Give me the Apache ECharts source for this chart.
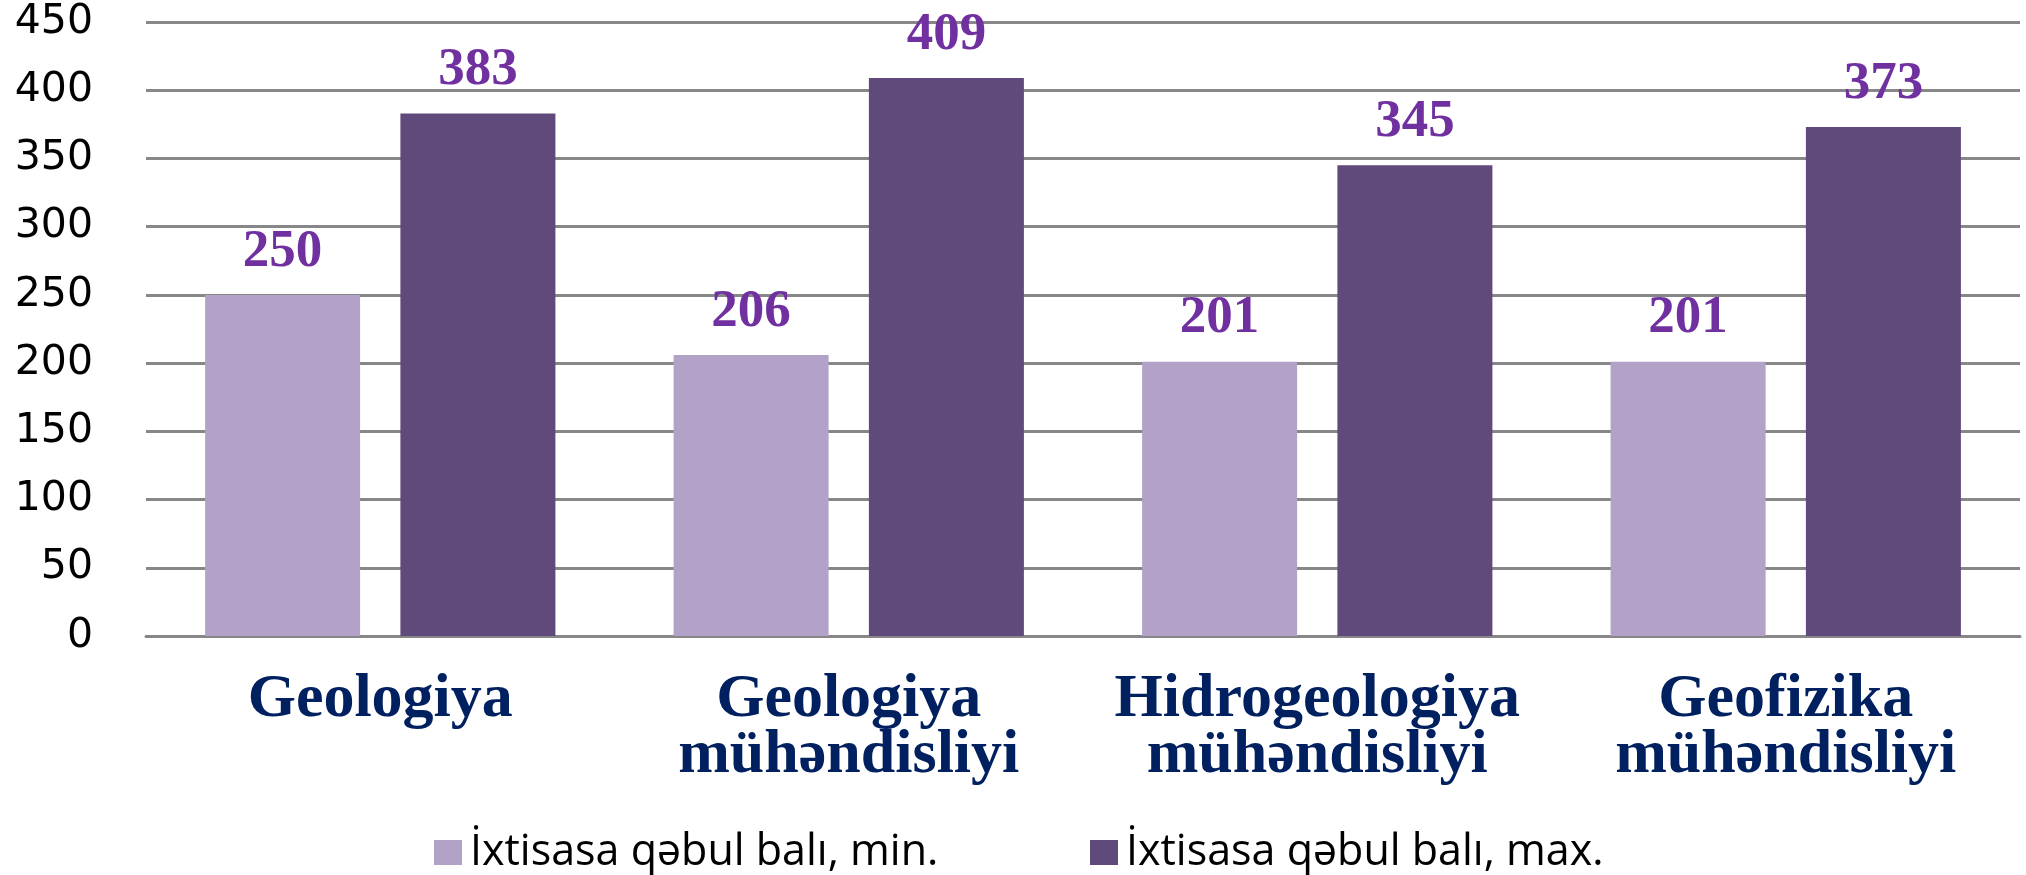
<!DOCTYPE html>
<html>
<head>
<meta charset="utf-8">
<title>İxtisasa qəbul balı</title>
<script src="https://cdn.jsdelivr.net/npm/echarts@6/dist/echarts.min.js"></script>
<style>
  html, body { margin: 0; padding: 0; background: #fff; }
  #chart { width: 2026px; height: 875px; }
</style>
</head>
<body>
<div id="chart"></div>
<script>
// ixtisaslar
var categories = ['Geologiya', 'Geologiya\nmühəndisliyi', 'Hidrogeologiya\nmühəndisliyi', 'Geofizika\nmühəndisliyi'];
// qəbul balları
var minScores = [250, 206, 201, 201];
var maxScores = [383, 409, 345, 373];
var seriesNames = ['İxtisasa qəbul balı, min.', 'İxtisasa qəbul balı, max.'];
var yTicks = [0, 50, 100, 150, 200, 250, 300, 350, 400, 450];

var chart = echarts.init(document.getElementById('chart'));

var valueLabel = {
    show: true,
    position: 'top',
    distance: 17,
    color: '#7030A0',
    fontFamily: '"Liberation Serif", "Times New Roman", serif',
    fontWeight: 'bold',
    fontSize: 53,
    lineHeight: 52
};

var legendText = {
    color: '#000',
    fontFamily: '"Open Sans", sans-serif',
    fontSize: 43,
    lineHeight: 40,
    padding: [0, 0, 0, 3]
};

var option = {
    backgroundColor: '#fff',
    animation: false,
    grid: { left: 146, right: 6, top: 22, bottom: 239 },
    legend: [
        { data: [seriesNames[0]], left: 429, top: 826, icon: 'rect', itemWidth: 28, itemHeight: 25, itemGap: 0, textStyle: legendText },
        { data: [seriesNames[1]], left: 1085, top: 826, icon: 'rect', itemWidth: 28, itemHeight: 25, itemGap: 0, textStyle: legendText }
    ],
    xAxis: {
        type: 'category',
        data: categories,
        axisTick: { show: false },
        axisLine: { lineStyle: { color: '#878787', width: 3 } },
        axisLabel: {
            interval: 0,
            margin: 36,
            color: '#002060',
            fontFamily: '"Liberation Serif", "Times New Roman", serif',
            fontWeight: 'bold',
            fontSize: 62,
            lineHeight: 56
        }
    },
    yAxis: {
        type: 'value',
        min: yTicks[0],
        max: yTicks[yTicks.length - 1],
        interval: yTicks[1] - yTicks[0],
        axisLine: { show: false },
        axisTick: { show: false },
        splitLine: { lineStyle: { color: '#878787', width: 3 } },
        axisLabel: {
            margin: 53,
            color: '#000',
            fontFamily: '"DejaVu Sans", Verdana, sans-serif',
            fontSize: 41
        }
    },
    series: [
        {
            name: seriesNames[0],
            type: 'bar',
            data: minScores,
            barWidth: 155,
            barGap: '26%',
            itemStyle: { color: '#B3A2C7' },
            label: valueLabel
        },
        {
            name: seriesNames[1],
            type: 'bar',
            data: maxScores,
            barWidth: 155,
            barGap: '26%',
            itemStyle: { color: '#604A7B' },
            label: valueLabel
        }
    ]
};

chart.setOption(option);
window.addEventListener('resize', function () { chart.resize(); });
</script>
</body>
</html>
